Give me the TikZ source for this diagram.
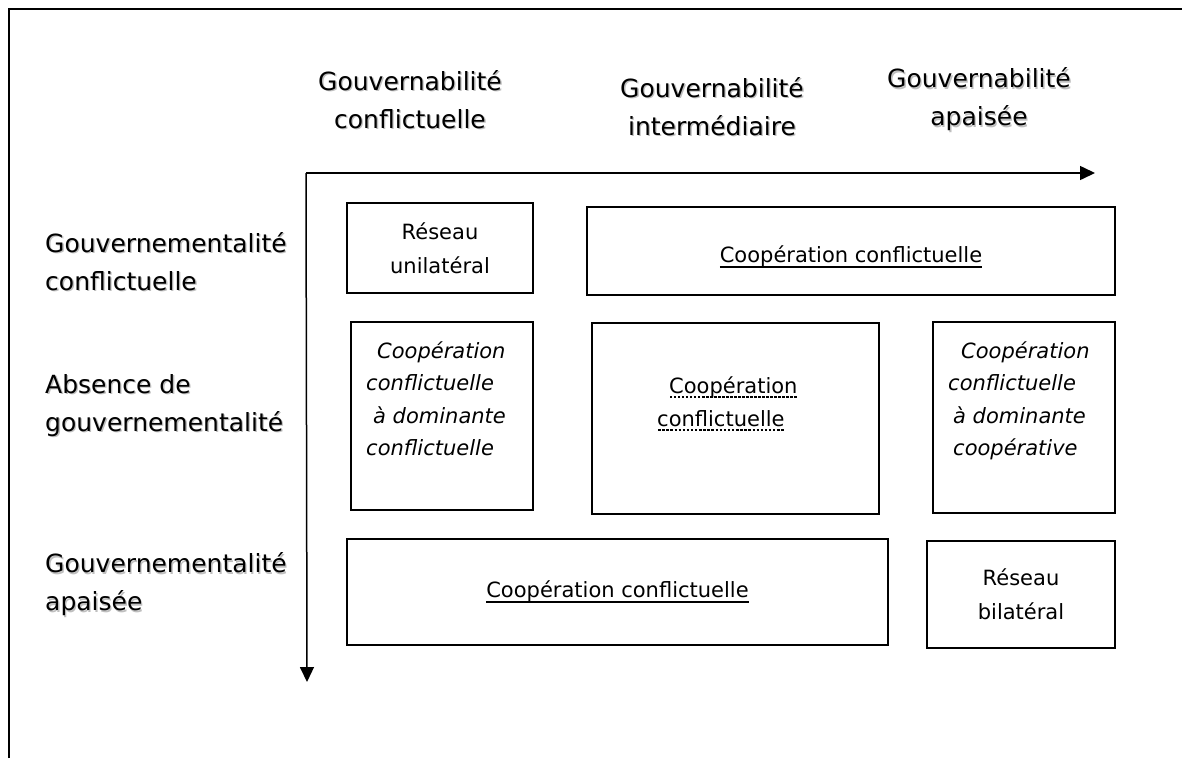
\documentclass[tikz,border=0pt]{standalone}
\usepackage{fontspec}
\setmainfont{DejaVu Sans}
\usetikzlibrary{positioning, arrows.meta}

% soft grey shadow behind the axis titles
\newcommand{\shtext}[1]{\makebox[0pt][l]{\hspace{1.3pt}\raisebox{-1.3pt}{\textcolor{black!25}{#1}}}#1}
% dashed and solid underlines
\newcommand{\dashund}[1]{\sbox0{#1}\rlap{\raisebox{-4.5pt}{\hbox to \wd0{\xleaders\hbox to 4pt{\hss\rule{2.4pt}{1.1pt}\hss}\hfill}}}\usebox0}
\newcommand{\solidund}[1]{\sbox0{#1}\rlap{\raisebox{-5pt}{\rule{\wd0}{1.5pt}}}\usebox0}

\tikzset{
  cellbox/.style={draw, line width=1.6pt, inner sep=0pt},
  axislabel/.style={font=\fontsize{25}{38}\selectfont, align=center, inner sep=0pt},
  rowlabel/.style={font=\fontsize{25}{38}\selectfont, align=left, anchor=west, inner sep=0pt},
  celltext/.style={font=\fontsize{21}{34}\selectfont, align=center, inner sep=0pt},
  celltextit/.style={font=\fontsize{21}{32.5}\selectfont\itshape, align=left, anchor=north west, inner sep=0pt},
  axisarrow/.style={line width=1.5pt, -{Triangle[length=15pt,width=14pt]}}
}

\begin{document}
\begin{tikzpicture}[x=1pt,y=-1pt]
        \useasboundingbox (0,0) rectangle (1182,758);

        % 1. Outer frame (left and top sides only)
        \coordinate (frameBL) at (9,758);
        \coordinate (frameTL) at (9,9);
        \coordinate (frameTR) at (1182,9);
        \draw[line width=1.7pt] (frameBL) -- (frameTL) -- (frameTR);

        % 2. Axes
        \coordinate (origin) at (306,173);
        \coordinate (xend) at (1095,173);
        \coordinate (yend) at (307,682);
        \draw[axisarrow] (origin) -- (xend);
        \draw[axisarrow] (origin) -- (yend);

        % 3. Column titles (gouvernabilite)
        \node[axislabel] (govConf) at (410,100) {\shtext{Gouvernabilité}\\\shtext{conflictuelle}};
        \node[axislabel] (govInter) at (712,107) {\shtext{Gouvernabilité}\\\shtext{intermédiaire}};
        \node[axislabel] (govApai) at (979,100) {\shtext{Gouvernabilité}\\\shtext{apaisée}};

        % 4. Row titles (gouvernementalite)
        \node[rowlabel] (gmtConf) at (45,262) {\shtext{Gouvernementalité}\\\shtext{conflictuelle}};
        \node[rowlabel] (gmtAbs) at (45,406) {\shtext{Absence de}\\\shtext{gouvernementalité}};
        \node[rowlabel] (gmtApai) at (45,585) {\shtext{Gouvernementalité}\\\shtext{apaisée}};

        % 5. First row of cells
        \node[cellbox, celltext, minimum width=186, minimum height=90] (unilat) at (440,248) {Réseau\\unilatéral};
        \node[cellbox, minimum width=528, minimum height=88] (coopTop) at (851,251) {};
        \node[celltext] (coopTopTxt) at (851,257) {\solidund{Coopération conflictuelle}};

        % 6. Second row of cells
        \node[cellbox, minimum width=182, minimum height=188] (domConf) at (442,416) {};
        \node[celltextit] (domConfTxt) at (366,341) {\hspace*{11pt}Coopération\\conflictuelle\\\hspace*{7pt}à dominante\\conflictuelle};
        \node[cellbox, minimum width=287, minimum height=191] (coopMid) at (735.5,418.5) {};
        \node[celltextit, font=\fontsize{21}{33}\selectfont] (coopMidTxt) at (657,376) {\hspace*{12pt}\dashund{Coopération}\\\dashund{conflictuelle}};
        \node[cellbox, minimum width=182, minimum height=191] (domCoop) at (1024,417.5) {};
        \node[celltextit] (domCoopTxt) at (948,341) {\hspace*{13pt}Coopération\\conflictuelle\\\hspace*{5pt}à dominante\\\hspace*{5pt}coopérative};

        % 7. Third row of cells
        \node[cellbox, celltext, minimum width=541, minimum height=106] (coopBot) at (617.5,592) {\solidund{Coopération conflictuelle}};
        \node[cellbox, celltext, minimum width=188, minimum height=107] (bilat) at (1021,594.5) {Réseau\\bilatéral};

\end{tikzpicture}
\end{document}
